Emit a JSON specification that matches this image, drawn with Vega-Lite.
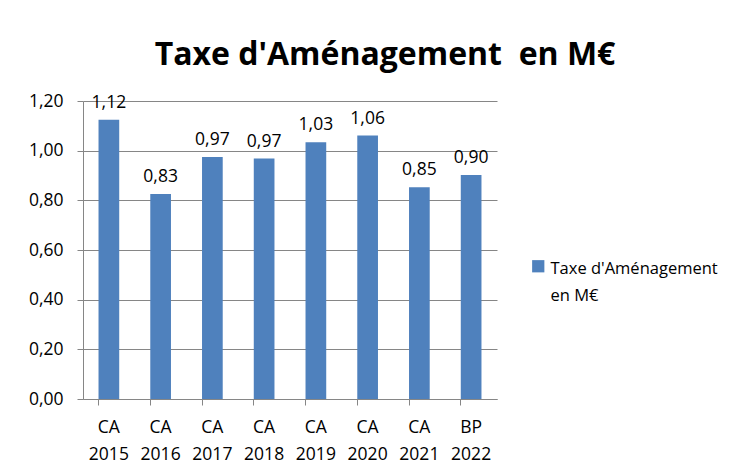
{
  "$schema": "https://vega.github.io/schema/vega-lite/v6.json",
  "width": 414,
  "height": 298,
  "autosize": {"type": "none"},
  "padding": {"left": 83, "top": 101, "right": 249, "bottom": 71},
  "background": "white",
  "config": {
    "locale": {"number": {"decimal": ",", "thousands": " ", "grouping": [3], "currency": ["", " €"]}},
    "font": "Open Sans",
    "view": {"stroke": null},
    "axis": {"labelFont": "Open Sans", "labelColor": "#000000", "labelFontSize": 17.5}
  },
  "title": {
    "text": "Taxe d'Aménagement\u00a0 en M€",
    "font": "Open Sans",
    "fontSize": 32,
    "fontWeight": "bold",
    "color": "#000000",
    "anchor": "middle",
    "dx": 95,
    "offset": 20
  },
  "data": {
    "values": [
      {"annee": "CA 2015", "valeur": 1.124, "serie": "Taxe d'Aménagement en M€"},
      {"annee": "CA 2016", "valeur": 0.826, "serie": "Taxe d'Aménagement en M€"},
      {"annee": "CA 2017", "valeur": 0.975, "serie": "Taxe d'Aménagement en M€"},
      {"annee": "CA 2018", "valeur": 0.968, "serie": "Taxe d'Aménagement en M€"},
      {"annee": "CA 2019", "valeur": 1.034, "serie": "Taxe d'Aménagement en M€"},
      {"annee": "CA 2020", "valeur": 1.061, "serie": "Taxe d'Aménagement en M€"},
      {"annee": "CA 2021", "valeur": 0.853, "serie": "Taxe d'Aménagement en M€"},
      {"annee": "BP 2022", "valeur": 0.902, "serie": "Taxe d'Aménagement en M€"}
    ]
  },
  "encoding": {
    "x": {
      "field": "annee",
      "type": "nominal",
      "sort": null,
      "scale": {"paddingInner": 0.6, "paddingOuter": 0.3},
      "axis": {
        "title": null,
        "labelAngle": 0,
        "labelExpr": "split(datum.label, ' ')",
        "labelLineHeight": 27,
        "labelPadding": 13,
        "bandPosition": 0,
        "tickSize": 6,
        "tickColor": "#868686",
        "domainColor": "#868686",
        "grid": false
      }
    },
    "y": {
      "field": "valeur",
      "type": "quantitative",
      "scale": {"domain": [0, 1.2], "nice": false},
      "axis": {
        "title": null,
        "values": [0, 0.2, 0.4, 0.6, 0.8, 1.0, 1.2],
        "format": ".2f",
        "tickSize": 6,
        "tickColor": "#868686",
        "domainColor": "#868686",
        "gridColor": "#868686",
        "labelPadding": 14
      }
    }
  },
  "layer": [
    {
      "mark": {"type": "bar", "color": "#4F81BD"},
      "encoding": {
        "color": {
          "field": "serie",
          "type": "nominal",
          "scale": {"range": ["#4F81BD"]},
          "legend": {
            "title": null,
            "orient": "none",
            "legendX": 447,
            "legendY": 157,
            "symbolType": "square",
            "symbolSize": 150,
            "symbolStrokeWidth": 0,
            "symbolOpacity": 1,
            "labelFont": "Open Sans",
            "labelFontSize": 16.5,
            "labelColor": "#000000",
            "labelLimit": 300,
            "labelBaseline": "top",
            "labelExpr": "['Taxe d\\'Aménagement', 'en M€']",
            "encode": {"labels": {"update": {"lineHeight": {"value": 27}, "dy": {"value": -5}}}}
          }
        }
      }
    },
    {
      "mark": {"type": "text", "baseline": "bottom", "dy": -8, "fontSize": 17.5, "font": "Open Sans", "color": "#000000"},
      "encoding": {
        "text": {"field": "valeur", "type": "quantitative", "format": ".2f"}
      }
    }
  ]
}
